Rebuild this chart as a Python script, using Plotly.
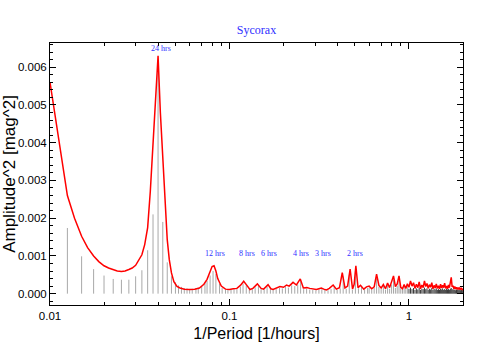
import numpy as np
import plotly.graph_objects as go

# smoothed periodogram (red), low/mid frequencies
red_f = [0.0100, 0.0125, 0.0137, 0.0150, 0.0162, 0.0175, 0.0187, 0.0200, 0.0212, 0.0225,
         0.0237, 0.0250, 0.0262, 0.0275, 0.0287, 0.0300, 0.0312, 0.0325, 0.0337, 0.0350,
         0.0362, 0.0375, 0.0387, 0.0400, 0.0412, 0.0425, 0.0437, 0.0450, 0.0462, 0.0475,
         0.0490, 0.0510, 0.0530, 0.0560, 0.0600, 0.0640, 0.0680, 0.0720, 0.0750, 0.0780,
         0.0800, 0.0820, 0.0840, 0.0860, 0.0900, 0.0950, 0.1000, 0.1050, 0.1100, 0.1150,
         0.1200, 0.1250, 0.1300, 0.1350, 0.1430, 0.1500, 0.1550, 0.1640, 0.1700, 0.1750,
         0.1850, 0.1910, 0.2000, 0.2080, 0.2150, 0.2260, 0.2360, 0.2480, 0.2580, 0.2700,
         0.2800, 0.2920, 0.3050, 0.3150, 0.3250, 0.3350, 0.3470, 0.3600, 0.3780, 0.3940,
         0.4100, 0.4250, 0.4400, 0.4550, 0.4700, 0.4850, 0.4950, 0.5060, 0.5200, 0.5370,
         0.5600, 0.5800]
red_a = [0.00560, 0.00260, 0.00200, 0.00152, 0.00122, 0.00100, 0.00085, 0.00074, 0.00068, 0.00063,
         0.00060, 0.00059, 0.00060, 0.00064, 0.00068, 0.00075, 0.00088, 0.00103, 0.00130, 0.00175,
         0.00270, 0.00400, 0.00530, 0.00630, 0.00480, 0.00360, 0.00250, 0.00143, 0.00090, 0.00055,
         0.00032, 0.00019, 0.00015, 0.00012, 0.00011, 0.00012, 0.00015, 0.00025, 0.00038, 0.00060,
         0.00072, 0.00074, 0.00060, 0.00040, 0.00020, 0.00012, 0.00011, 0.00013, 0.00014, 0.00022,
         0.00033, 0.00022, 0.00011, 0.00014, 0.00026, 0.00014, 0.00012, 0.00024, 0.00013, 0.00011,
         0.00016, 0.00019, 0.00017, 0.00023, 0.00020, 0.00030, 0.00023, 0.00039, 0.00015, 0.00016,
         0.00014, 0.00012, 0.00011, 0.00013, 0.00015, 0.00012, 0.00010, 0.00014, 0.00023, 0.00012,
         0.00016, 0.00056, 0.00015, 0.00020, 0.00065, 0.00012, 0.00025, 0.00074, 0.00016, 0.00022,
         0.00012, 0.00018]

# high frequency part (shared grid for red curve and dense stems)
hi_f = [0.60, 0.62, 0.64, 0.66, 0.68, 0.70, 0.72, 0.74, 0.76, 0.78,
        0.80, 0.82, 0.84, 0.86, 0.88, 0.90, 0.92, 0.94, 0.96, 0.98,
        1.00, 1.02, 1.04, 1.06, 1.08, 1.10, 1.12, 1.14, 1.16, 1.18,
        1.20, 1.22, 1.24, 1.26, 1.28, 1.30, 1.32, 1.34, 1.36, 1.38,
        1.40, 1.42, 1.44, 1.46, 1.48, 1.50, 1.52, 1.54, 1.56, 1.58,
        1.60, 1.62, 1.64, 1.66, 1.68, 1.70, 1.72, 1.74, 1.76, 1.78,
        1.80, 1.82, 1.84, 1.86, 1.88, 1.90, 1.92, 1.94, 1.96, 1.98,
        2.00]
hi_red = [0.00020, 0.00013, 0.00018, 0.00052, 0.00022, 0.00015, 0.00024, 0.00013, 0.00028, 0.00016,
          0.00030, 0.00047, 0.00019, 0.00026, 0.00047, 0.00017, 0.00013, 0.00024, 0.00014, 0.00026,
          0.00017, 0.00034, 0.00020, 0.00029, 0.00014, 0.00025, 0.00016, 0.00031, 0.00013, 0.00023,
          0.00016, 0.00034, 0.00019, 0.00027, 0.00014, 0.00024, 0.00017, 0.00029, 0.00013, 0.00022,
          0.00015, 0.00026, 0.00014, 0.00021, 0.00013, 0.00025, 0.00015, 0.00022, 0.00016, 0.00028,
          0.00014, 0.00020, 0.00013, 0.00023, 0.00016, 0.00026, 0.00043, 0.00018, 0.00021, 0.00013,
          0.00019, 0.00012, 0.00017, 0.00013, 0.00016, 0.00011, 0.00015, 0.00012, 0.00014, 0.00011,
          0.00013]
hi_stem = [0.00016, 0.00011, 0.00015, 0.00040, 0.00018, 0.00012, 0.00020, 0.00011, 0.00022, 0.00013,
           0.00024, 0.00036, 0.00015, 0.00021, 0.00035, 0.00014, 0.00011, 0.00019, 0.00012, 0.00020,
           0.00013, 0.00016, 0.00012, 0.00015, 0.00010, 0.00014, 0.00011, 0.00016, 0.00010, 0.00013,
           0.00012, 0.00016, 0.00012, 0.00014, 0.00010, 0.00013, 0.00011, 0.00015, 0.00010, 0.00013,
           0.00011, 0.00014, 0.00010, 0.00012, 0.00010, 0.00013, 0.00011, 0.00014, 0.00010, 0.00012,
           0.00010, 0.00013, 0.00011, 0.00012, 0.00010, 0.00013, 0.00015, 0.00011, 0.00012, 0.00010,
           0.00011, 0.00009, 0.00011, 0.00010, 0.00011, 0.00009, 0.00010, 0.00009, 0.00010, 0.00009,
           0.00010]

# raw periodogram stems, low and mid frequencies
stem_f = [0.0125, 0.0150, 0.0175, 0.0200, 0.0225, 0.0250, 0.0275, 0.0300, 0.0325, 0.0350,
          0.0375, 0.0400, 0.0425, 0.0450, 0.0475, 0.0500,
          0.052, 0.054, 0.056, 0.058, 0.060, 0.062, 0.065, 0.067, 0.070, 0.073,
          0.075, 0.078, 0.081, 0.084, 0.088, 0.091, 0.095, 0.098, 0.102, 0.106,
          0.110, 0.115, 0.119, 0.124, 0.129, 0.134, 0.139, 0.145, 0.150, 0.156,
          0.162, 0.169, 0.175, 0.182, 0.190, 0.197, 0.205, 0.213, 0.222, 0.231,
          0.240, 0.249, 0.259, 0.269, 0.280, 0.291, 0.303, 0.315, 0.327, 0.340,
          0.354, 0.368, 0.383, 0.398, 0.414, 0.430, 0.447, 0.465, 0.484, 0.503,
          0.523, 0.544, 0.566, 0.588]
stem_a = [0.00174, 0.00099, 0.00065, 0.00048, 0.00039, 0.00037, 0.00037, 0.00046, 0.00062, 0.00115,
          0.00210, 0.00620, 0.00190, 0.00083, 0.00046, 0.00030,
          0.00022, 0.00018, 0.00015, 0.00014, 0.00012, 0.00013, 0.00015, 0.00016, 0.00020, 0.00028,
          0.00034, 0.00048, 0.00060, 0.00052, 0.00026, 0.00015, 0.00011, 0.00010, 0.00011, 0.00012,
          0.00012, 0.00018, 0.00027, 0.00022, 0.00010, 0.00012, 0.00017, 0.00021, 0.00012, 0.00011,
          0.00019, 0.00012, 0.00010, 0.00012, 0.00015, 0.00014, 0.00019, 0.00016, 0.00022, 0.00020,
          0.00024, 0.00033, 0.00012, 0.00013, 0.00011, 0.00010, 0.00009, 0.00011, 0.00012, 0.00010,
          0.00009, 0.00012, 0.00019, 0.00010, 0.00014, 0.00045, 0.00013, 0.00050, 0.00010, 0.00060,
          0.00014, 0.00018, 0.00011, 0.00015]

period_labels = ["24 hrs", "12 hrs", "8 hrs", "6 hrs", "4 hrs", "3 hrs", "2 hrs"]
period_hours = [24, 12, 8, 6, 4, 3, 2]
label_y = [0.0065, 0.00106, 0.00106, 0.00106, 0.00106, 0.00106, 0.00106]


def stems(fs, hs):
    xs, ys = [], []
    for f, h in zip(fs, hs):
        xs += [f, f, None]
        ys += [0, h, None]
    return xs, ys


fig = go.Figure()

sx, sy = stems(stem_f + hi_f[:20], stem_a + hi_stem[:20])
fig.add_trace(go.Scatter(x=sx, y=sy, mode="lines", line=dict(color="#a8a8a8", width=1),
                         hoverinfo="skip", showlegend=False))
dx, dy = stems(hi_f[20:], hi_stem[20:])
fig.add_trace(go.Scatter(x=dx, y=dy, mode="lines", line=dict(color="#3c3c3c", width=1),
                         hoverinfo="skip", showlegend=False))

fig.add_trace(go.Scatter(x=red_f + hi_f, y=red_a + hi_red, mode="lines",
                         line=dict(color="red", width=1.5), showlegend=False))

for txt, p, yv in zip(period_labels, period_hours, label_y):
    fig.add_annotation(x=np.log10(1.0 / p), y=yv, text=txt, showarrow=False,
                       font=dict(family="Liberation Serif", size=8, color="#3030ff"))

fig.update_layout(
    width=494, height=356,
    margin=dict(l=50, r=31, t=43, b=51),
    paper_bgcolor="white", plot_bgcolor="white",
    font=dict(family="Liberation Sans", color="black"),
    title=dict(text="Sycorax", x=0.5, xref="paper", y=1 - 30 / 356, yanchor="middle",
               font=dict(family="Liberation Serif", size=12, color="#3030ff")),
)

fig.update_xaxes(
    type="log", range=[-2, np.log10(2)], automargin=False,
    showline=True, linecolor="black", linewidth=1, mirror="ticks",
    ticks="inside", ticklen=6, tickcolor="black",
    tickvals=[0.01, 0.1, 1], ticktext=["0.01", "0.1", "1"],
    tickfont=dict(size=11.5),
    minor=dict(ticks="inside", ticklen=3, tickcolor="black",
               tickvals=[0.02, 0.03, 0.04, 0.05, 0.06, 0.07, 0.08, 0.09,
                         0.2, 0.3, 0.4, 0.5, 0.6, 0.7, 0.8, 0.9, 2]),
    showgrid=False, zeroline=False,
    title=dict(text="1/Period [1/hours]", font=dict(size=16), standoff=7),
)
fig.update_yaxes(
    range=[-0.0003, 0.00664], automargin=False,
    showline=True, linecolor="black", linewidth=1, mirror="ticks",
    ticks="inside", ticklen=6, tickcolor="black",
    dtick=0.001, tickformat=".3f", tickfont=dict(size=11.5),
    minor=dict(ticks="inside", ticklen=3, tickcolor="black", dtick=0.0002),
    showgrid=False, zeroline=False,
    title=dict(text="Amplitude^2 [mag^2]", font=dict(size=17), standoff=0),
)

# drop the default page margin so the figure sits at the window corner
fig.write_html("out.html", config={"displayModeBar": False},
               post_script="document.body.style.margin='0';")
